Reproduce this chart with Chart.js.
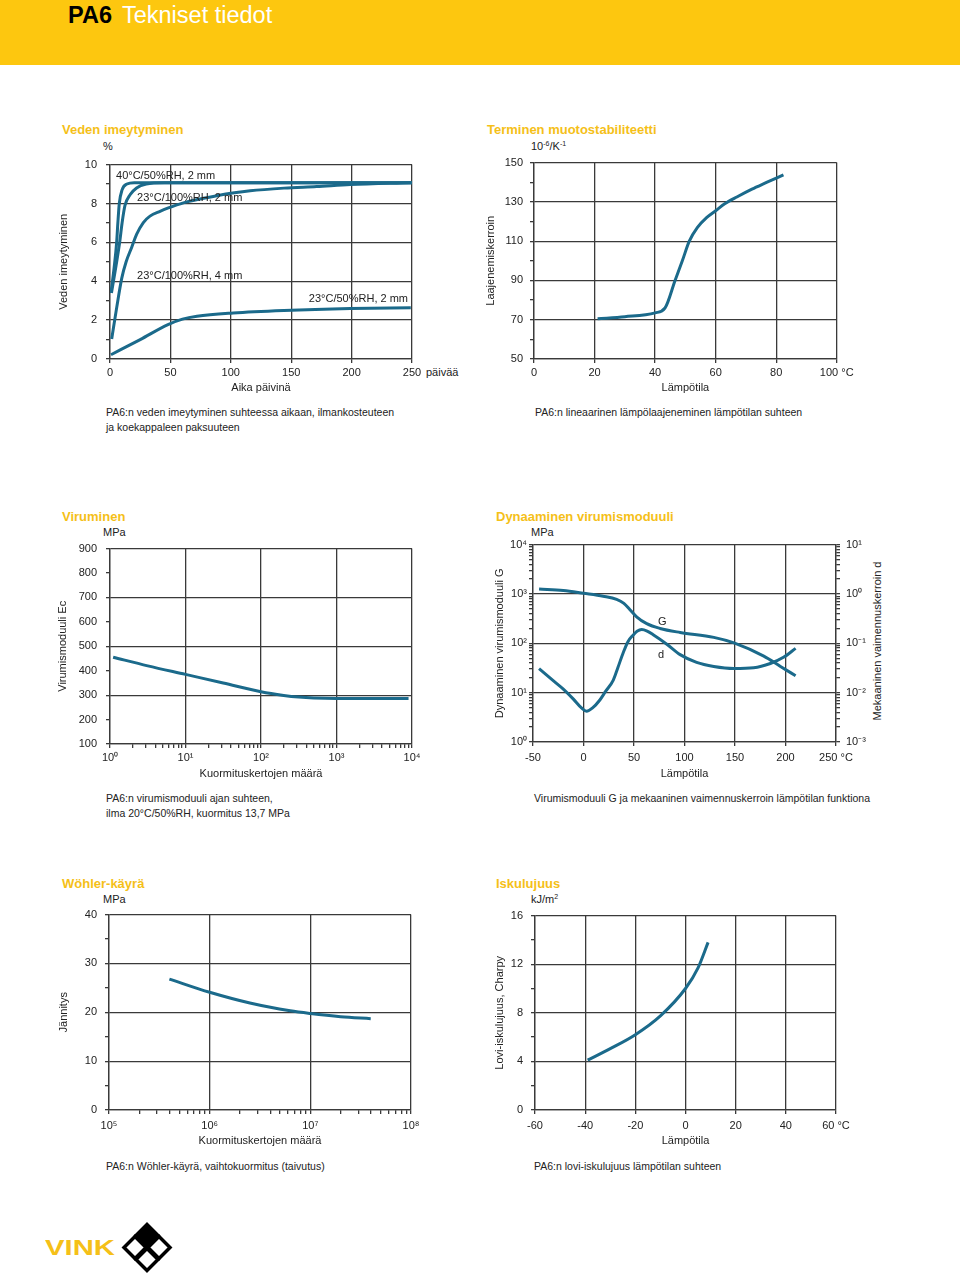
<!DOCTYPE html>
<html lang="fi">
<head>
<meta charset="utf-8">
<title>PA6 Tekniset tiedot</title>
<script src="https://cdn.jsdelivr.net/npm/chart.js@4.4.1/dist/chart.umd.min.js"></script>
<style>
  body { margin: 0; background: #fff; font-family: "Liberation Sans", Arial, sans-serif; color: #222; }
  #page { position: relative; width: 960px; height: 1273px; overflow: hidden; }
  .band { position: absolute; left: 0; top: 0; width: 960px; height: 65px; background: #fdc70f; }
  .head { position: absolute; left: 68px; top: 1px; font-size: 23.5px; line-height: 28px; color: #fff; white-space: nowrap; }
  .head b { color: #000; font-weight: 900; margin-right: 10px; }
  .title { position: absolute; font-weight: bold; font-size: 13px; line-height: 16px; color: #f5c018; white-space: nowrap; }
  .txt { position: absolute; font-size: 11px; line-height: 13px; color: #222; white-space: nowrap; }
  .cap { position: absolute; font-size: 10.5px; line-height: 15px; color: #222; white-space: nowrap; }
  .rot { position: absolute; font-size: 11px; line-height: 13px; color: #222; white-space: nowrap; transform: translate(-50%, -50%) rotate(-90deg); }
  canvas { position: absolute; }
  sup { font-size: 7px; vertical-align: 4px; line-height: 0; }
  .vink { position: absolute; left: 45px; top: 1236px; font-size: 22px; line-height: 24px; font-weight: 900; color: #f5c018; transform: scaleX(1.33); transform-origin: left center; }
</style>
</head>
<body>
<div id="page">
  <div class="band"></div>
  <div class="head"><b>PA6</b>Tekniset tiedot</div>

  <div class="title" style="left:62px; top:122px;">Veden imeytyminen</div>
  <div class="txt" style="left:103px; top:140px;">%</div>
  <div class="txt" style="left:426px; top:366px;">päivää</div>
  <canvas id="c1" width="377" height="246" style="left:55px; top:149px;"></canvas>
  <div class="cap" style="left:106px; top:405px;">PA6:n veden imeytyminen suhteessa aikaan, ilmankosteuteen<br>ja koekappaleen paksuuteen</div>

  <div class="title" style="left:487px; top:122px;">Terminen muotostabiliteetti</div>
  <div class="txt" style="left:531px; top:140px;">10<sup>-6</sup>/K<sup>-1</sup></div>
  <canvas id="c2" width="375" height="246" style="left:482px; top:149px;"></canvas>
  <div class="cap" style="left:535px; top:405px;">PA6:n lineaarinen lämpölaajeneminen lämpötilan suhteen</div>

  <div class="title" style="left:62px; top:509px;">Viruminen</div>
  <div class="txt" style="left:103px; top:526px;">MPa</div>
  <canvas id="c3" width="378" height="248" style="left:54px; top:533px;"></canvas>
  <div class="cap" style="left:106px; top:791px;">PA6:n virumismoduuli ajan suhteen,<br>ilma 20°C/50%RH, kuormitus 13,7 MPa</div>

  <div class="title" style="left:496px; top:509px;">Dynaaminen virumismoduuli</div>
  <div class="txt" style="left:531px; top:526px;">MPa</div>
  <canvas id="c4" width="380" height="249" style="left:490px; top:532px;"></canvas>
  <div class="rot" style="left:877px; top:641px;">Mekaaninen vaimennuskerroin d</div>
  <div class="cap" style="left:534px; top:791px;">Virumismoduuli G ja mekaaninen vaimennuskerroin lämpötilan funktiona</div>

  <div class="title" style="left:62px; top:876px;">Wöhler-käyrä</div>
  <div class="txt" style="left:103px; top:893px;">MPa</div>
  <canvas id="c5" width="376" height="248" style="left:55px; top:900px;"></canvas>
  <div class="cap" style="left:106px; top:1159px;">PA6:n Wöhler-käyrä, vaihtokuormitus (taivutus)</div>

  <div class="title" style="left:496px; top:876px;">Iskulujuus</div>
  <div class="txt" style="left:531px; top:893px;">kJ/m<sup>2</sup></div>
  <canvas id="c6" width="366" height="247" style="left:490px; top:901px;"></canvas>
  <div class="cap" style="left:534px; top:1159px;">PA6:n lovi-iskulujuus lämpötilan suhteen</div>

  <div class="vink">VINK</div>
  <svg style="position:absolute; left:118px; top:1220px;" width="56" height="56" viewBox="0 0 56 56">
    <g stroke="#000" stroke-width="3.5" stroke-linejoin="miter">
      <polygon points="29,4.5 40,15.5 29,26.5 18,15.5" fill="#000"/>
      <polygon points="17,16.5 28,27.5 17,38.5 6,27.5" fill="#fff"/>
      <polygon points="41,16.5 52,27.5 41,38.5 30,27.5" fill="#fff"/>
      <polygon points="29,28.5 40,39.5 29,50.5 18,39.5" fill="#fff"/>
    </g>
  </svg>
</div>

<script>
// ---- Veden imeytyminen (päivää, %)
const absorbDays40 = [0.8, 3.6, 5.5, 6.5, 7.7, 10, 14, 20, 250];
const absorb40 = [3.4, 4.8, 6.0, 7.0, 8.0, 8.7, 9.0, 9.07, 9.07];
const absorbDays100 = [1.2, 5, 8, 10, 12.4, 16.6, 22, 30, 45, 250];
const absorb100 = [3.4, 4.8, 6.0, 7.0, 7.9, 8.45, 8.8, 9.0, 9.07, 9.07];
const absorbDays100t4 = [1.4, 5.5, 9.7, 13.3, 18, 22.1, 27.6, 33.1, 41.4, 48.3, 60.8, 74.6, 88.4, 116, 144, 171, 199, 249];
const absorb100t4 = [1.03, 2.63, 4.15, 4.99, 5.75, 6.42, 7.02, 7.35, 7.6, 7.77, 8.03, 8.23, 8.4, 8.65, 8.79, 8.87, 8.97, 9.07];
const absorbDays50 = [0.8, 25, 48, 60, 72, 102, 144, 199, 249];
const absorb50 = [0.22, 1.0, 1.77, 2.05, 2.2, 2.37, 2.5, 2.6, 2.64];
const absorbYTicks = [0, 2, 4, 6, 8, 10];
const absorbNotes = [
  { x: 5, y: 9.4, text: '40°C/50%RH, 2 mm' },
  { x: 22.4, y: 8.3, text: '23°C/100%RH, 2 mm' },
  { x: 22.4, y: 4.25, text: '23°C/100%RH, 4 mm' },
  { x: 246.7, y: 3.09, text: '23°C/50%RH, 2 mm', align: 'right' }
];

// ---- Terminen muotostabiliteetti (°C, 10^-6/K)
const expTemp = [21, 30, 40, 43.3, 46.6, 49, 51.3, 54, 57, 60, 63, 67, 72, 77, 82.4];
const expCoef = [70.5, 71.5, 73.5, 76, 90, 100, 110, 117, 122, 125.5, 129, 132.5, 136.5, 140, 143.8];
const expYTicks = [50, 70, 90, 110, 130, 150];

// ---- Viruminen (kuormituskerrat, MPa)
const creepCycles = [1.1, 3.16, 10, 31.6, 100, 200, 316, 500, 1000, 3000, 9000];
const creepMod = [455, 420, 385, 350, 314, 299, 292, 288, 286, 286, 286];
const creepYTicks = [100, 200, 300, 400, 500, 600, 700, 800, 900];
const creepYGrid = [100, 300, 500, 700, 900];

// ---- Dynaaminen virumismoduuli (°C, MPa / d)
const dynTempG = [-44, -20, 0, 19.5, 32.8, 40, 46, 52.6, 62.6, 75.8, 95.7, 129, 149, 178.5, 195, 210];
const dynG = [1260, 1170, 1030, 900, 780, 645, 480, 345, 250, 200, 166, 132, 102, 55, 34, 22];
const dynTempD = [-44, -30, -20, -10, -2, 3, 9, 16.2, 22, 29.5, 34, 39.4, 44, 49.3, 53, 57.6, 63, 69, 82.5, 95.7, 112, 129, 149, 168.5, 185, 198, 210];
const dynD = [0.0306, 0.0175, 0.0118, 0.0074, 0.0049, 0.0042, 0.0049, 0.0071, 0.0107, 0.018, 0.032, 0.065, 0.108, 0.148, 0.175, 0.19, 0.177, 0.149, 0.096, 0.059, 0.041, 0.034, 0.031, 0.032, 0.039, 0.052, 0.079];
const dynNotes = [
  { x: 73.8, y: 265, text: 'G' },
  { x: 73.8, y: 57, text: 'd' }
];

// ---- Wöhler-käyrä (kuormituskerrat, MPa)
const wohlerCycles = [3.98e5, 1.0e6, 2.51e6, 6.31e6, 1.0e7, 2.0e7, 3.98e7];
const wohlerStress = [26.8, 24.1, 21.9, 20.3, 19.75, 19.1, 18.7];
const wohlerYTicks = [0, 10, 20, 30, 40];

// ---- Iskulujuus (°C, kJ/m2)
const impactTemp = [-39, -30, -20, -10, 0, 5, 9];
const impactVal = [4.1, 5.05, 6.2, 7.75, 10.0, 11.7, 13.8];
const impactYTicks = [0, 4, 8, 12, 16];

const LINE = '#1b6a8b';
const GRID = '#3a3a3a';
const NONE = 'rgba(0,0,0,0)';
const FAMILY = '"Liberation Sans", Arial, sans-serif';

Chart.defaults.font.family = FAMILY;
Chart.defaults.font.size = 11;
Chart.defaults.color = '#222';

function pts(xs, ys) {
  return xs.map((x, i) => ({ x: x, y: ys[i] }));
}

function series(xs, ys, axis) {
  return {
    data: pts(xs, ys),
    yAxisID: axis || 'y',
    borderColor: LINE,
    borderWidth: 3,
    pointRadius: 0,
    fill: false,
    cubicInterpolationMode: 'monotone'
  };
}

function inList(list, v) {
  return list.some(m => Math.abs(m - v) < 1e-9);
}

function isDecade(v) {
  const e = Math.round(Math.log10(v));
  return Math.abs(v - Math.pow(10, e)) < 1e-9 * Math.pow(10, e);
}

const SUP = { '0': '⁰', '1': '¹', '2': '²', '3': '³', '4': '⁴', '5': '⁵', '6': '⁶', '7': '⁷', '8': '⁸', '9': '⁹', '-': '⁻' };
function powLabel(v) {
  const e = String(Math.round(Math.log10(v)));
  return '10' + e.split('').map(c => SUP[c]).join('');
}

function logTicks(lo, hi) {
  const out = [];
  for (let e = lo; e < hi; e++) {
    for (let m = 1; m < 10; m++) out.push({ value: m * Math.pow(10, e) });
  }
  out.push({ value: Math.pow(10, hi) });
  return out;
}

// Linear axis: o.major decides which ticks get gridline + label
function linAxis(o) {
  const major = v => (o.major ? inList(o.major, v) : true);
  const label = v => (o.labels ? inList(o.labels, v) : major(v));
  const horiz = o.pos === 'bottom';
  return {
    type: 'linear',
    position: o.pos,
    min: o.min,
    max: o.max,
    afterFit: s => { if (horiz) s.height = o.size; else s.width = o.size; },
    grid: {
      color: c => (c.tick && !major(c.tick.value) ? NONE : GRID),
      tickColor: GRID,
      lineWidth: 1.3,
      tickLength: 4
    },
    border: { color: GRID, width: 1.3 },
    ticks: {
      stepSize: o.step,
      padding: o.tickPad,
      autoSkip: false,
      maxRotation: 0,
      callback: v => (label(v) ? (o.fmt ? o.fmt(v) : String(v)) : '')
    },
    title: o.title ? {
      display: true,
      text: o.title,
      padding: horiz ? { top: 0, bottom: o.titlePad } : { top: o.titlePad, bottom: 0 }
    } : { display: false }
  };
}

// Log axis with decade gridlines and 2..9 minor tick marks
function logAxis(o) {
  const horiz = o.pos === 'bottom';
  return {
    type: 'logarithmic',
    position: o.pos,
    min: Math.pow(10, o.lo),
    max: Math.pow(10, o.hi),
    afterBuildTicks: s => { s.ticks = logTicks(o.lo, o.hi); },
    afterFit: s => { if (horiz) s.height = o.size; else s.width = o.size; },
    grid: {
      color: c => (c.tick && !isDecade(c.tick.value) ? NONE : GRID),
      tickColor: GRID,
      lineWidth: 1.3,
      tickLength: 4,
      drawOnChartArea: o.onArea !== false
    },
    border: { color: GRID, width: 1.3 },
    ticks: {
      padding: o.tickPad,
      autoSkip: false,
      maxRotation: 0,
      callback: v => (isDecade(v) ? powLabel(v) : '')
    },
    title: o.title ? {
      display: true,
      text: o.title,
      padding: horiz ? { top: 0, bottom: o.titlePad } : { top: o.titlePad, bottom: 0 }
    } : { display: false }
  };
}

function notes(items, yId) {
  return {
    id: 'notes',
    afterDatasetsDraw(chart) {
      const ctx = chart.ctx;
      const xs = chart.scales.x;
      const ys = chart.scales[yId || 'y'];
      ctx.save();
      ctx.font = '11px ' + FAMILY;
      ctx.fillStyle = '#222';
      ctx.textBaseline = 'middle';
      items.forEach(n => {
        ctx.textAlign = n.align || 'left';
        ctx.fillText(n.text, xs.getPixelForValue(n.x), ys.getPixelForValue(n.y));
      });
      ctx.restore();
    }
  };
}

function options(pad, scales) {
  return {
    responsive: false,
    animation: false,
    events: [],
    layout: { padding: pad },
    plugins: { legend: { display: false }, tooltip: { enabled: false } },
    scales: scales
  };
}

// 1. Veden imeytyminen
new Chart(document.getElementById('c1'), {
  type: 'line',
  data: { datasets: [
    series(absorbDays40, absorb40),
    series(absorbDays100, absorb100),
    series(absorbDays100t4, absorb100t4),
    series(absorbDays50, absorb50)
  ] },
  options: options({ top: 12, right: 20 }, {
    x: linAxis({ pos: 'bottom', min: 0, max: 250, step: 50, size: 36, tickPad: 3.4, title: 'Aika päivinä', titlePad: 0.4 }),
    y: linAxis({ pos: 'left', min: 0, max: 10, step: 1, major: absorbYTicks, size: 55, tickPad: 9, title: 'Veden imeytyminen', titlePad: 2.4 })
  }),
  plugins: [notes(absorbNotes)]
});

// 2. Terminen muotostabiliteetti
new Chart(document.getElementById('c2'), {
  type: 'line',
  data: { datasets: [series(expTemp, expCoef)] },
  options: options({ top: 12, right: 20 }, {
    x: linAxis({ pos: 'bottom', min: 0, max: 100, step: 20, size: 36, tickPad: 3.4, title: 'Lämpötila', titlePad: 0.4,
      fmt: v => (v === 100 ? '100 °C' : String(v)) }),
    y: linAxis({ pos: 'left', min: 50, max: 150, step: 10, major: expYTicks, size: 52, tickPad: 7, title: 'Laajenemiskerroin', titlePad: 2.4 })
  })
});

// 3. Viruminen
new Chart(document.getElementById('c3'), {
  type: 'line',
  data: { datasets: [series(creepCycles, creepMod)] },
  options: options({ top: 12, right: 20 }, {
    x: logAxis({ pos: 'bottom', lo: 0, hi: 4, size: 37, tickPad: 3.4, title: 'Kuormituskertojen määrä', titlePad: 0.4 }),
    y: linAxis({ pos: 'left', min: 100, max: 900, step: 100, major: creepYGrid, labels: creepYTicks, size: 56, tickPad: 9, title: 'Virumismoduuli Ec', titlePad: 2.4 })
  })
});

// 4. Dynaaminen virumismoduuli
new Chart(document.getElementById('c4'), {
  type: 'line',
  data: { datasets: [
    series(dynTempG, dynG, 'y'),
    series(dynTempD, dynD, 'y2')
  ] },
  options: options({ top: 12, right: 0 }, {
    x: linAxis({ pos: 'bottom', min: -50, max: 250, step: 50, size: 39, tickPad: 5.4, title: 'Lämpötila', titlePad: 0.4,
      fmt: v => (v === 250 ? '250 °C' : String(v)) }),
    y: logAxis({ pos: 'left', lo: 0, hi: 4, size: 43, tickPad: 2, title: 'Dynaaminen virumismoduuli G', titlePad: 3.4 }),
    y2: logAxis({ pos: 'right', lo: -3, hi: 1, size: 34, tickPad: 6, onArea: false })
  }),
  plugins: [notes(dynNotes)]
});

// 5. Wöhler-käyrä
new Chart(document.getElementById('c5'), {
  type: 'line',
  data: { datasets: [series(wohlerCycles, wohlerStress)] },
  options: options({ top: 12, right: 20 }, {
    x: logAxis({ pos: 'bottom', lo: 5, hi: 8, size: 38, tickPad: 5.4, title: 'Kuormituskertojen määrä', titlePad: 0.4 }),
    y: linAxis({ pos: 'left', min: 0, max: 40, step: 5, major: wohlerYTicks, size: 54, tickPad: 8, title: 'Jännitys', titlePad: 2.4 })
  })
});

// 6. Iskulujuus
new Chart(document.getElementById('c6'), {
  type: 'line',
  data: { datasets: [series(impactTemp, impactVal)] },
  options: options({ top: 12, right: 20 }, {
    x: linAxis({ pos: 'bottom', min: -60, max: 60, step: 20, size: 38, tickPad: 5.4, title: 'Lämpötila', titlePad: 0.4,
      fmt: v => (v === 60 ? '60 °C' : String(v)) }),
    y: linAxis({ pos: 'left', min: 0, max: 16, step: 2, major: impactYTicks, size: 45, tickPad: 8, title: 'Lovi-iskulujuus, Charpy', titlePad: 3.4 })
  })
});
</script>
</body>
</html>
